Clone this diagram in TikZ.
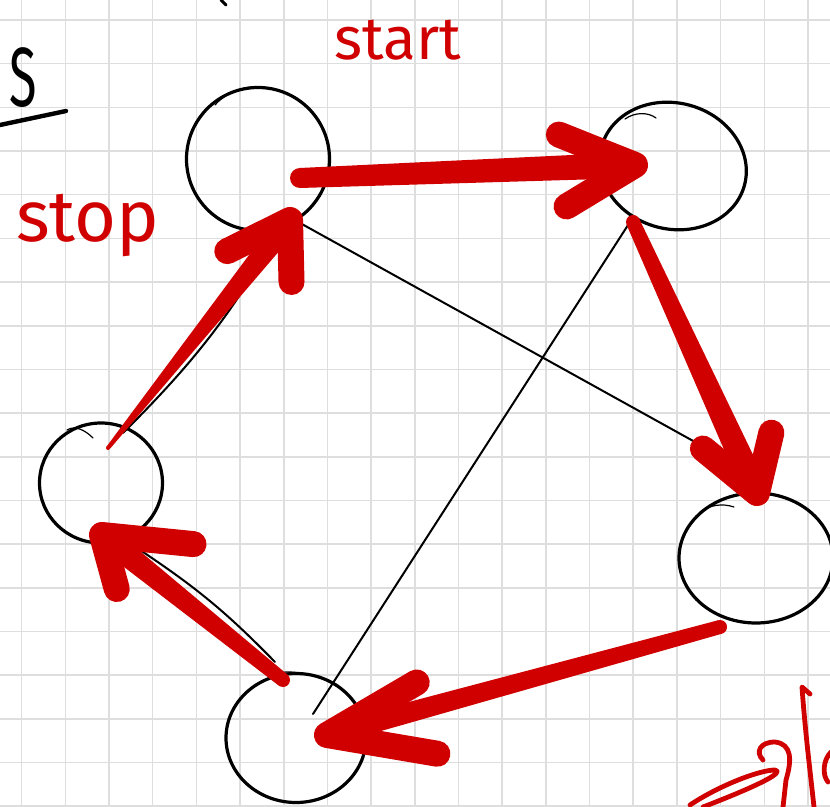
\documentclass[tikz,border=0pt]{standalone}
\usepackage{fontspec}
\setmainfont{Fira Sans}
\usetikzlibrary{calc,shapes.geometric}

\definecolor{penred}{RGB}{209,0,0}
\definecolor{paperline}{RGB}{222,222,222}

\tikzset{
  vertex/.style={draw, ellipse, line width=1.6pt, inner sep=0pt, outer sep=0pt},
  edge/.style={line width=1pt, line cap=round},
  tail/.style={line width=0.6pt, line cap=round},
  penhead/.style={penred, line width=13pt, line cap=round, line join=round},
  scribble/.style={penred, line width=2.4pt, line cap=round, line join=round}
}

% tapered red stroke from #1 to #2 with an open head
% #3/#4 half widths, #5/#6 barb angles, #7/#8 barb lengths
\newcommand{\penarrow}[8]{%
  \fill[penred] ($(#1)!#3!90:(#2)$) -- ($(#2)!#4!-90:(#1)$) -- ($(#2)!#4!90:(#1)$) -- ($(#1)!#3!-90:(#2)$) -- cycle;
  \fill[penred] (#1) circle (#3);
  \draw[penhead] ($(#2)!#7!#5:(#1)$) -- (#2) -- ($(#2)!#8!#6:(#1)$);
}

\begin{document}
\begin{tikzpicture}[x=0.5pt, y=-0.5pt]
  \useasboundingbox[fill=white] (0,0) rectangle (830,807);

  % Grid paper
  \foreach \i in {0,...,18}
    \draw[paperline, line width=0.75pt] ({21.7+43.68*\i},0) -- ({21.7+43.68*\i},807);
  \foreach \j in {0,...,18}
    \draw[paperline, line width=0.75pt] (0,{20+43.68*\j}) -- (830,{20+43.68*\j});

  % Vertices
  \node[vertex, minimum width=71.5pt, minimum height=71.5pt] (st) at (258,159) {};
  \node[vertex, minimum width=74pt, minimum height=63pt, rotate=-15] (tr) at (673,166) {};
  \node[vertex, minimum width=77pt, minimum height=65pt] (rt) at (756,558) {};
  \node[vertex, minimum width=70pt, minimum height=64.5pt] (bt) at (296,738) {};
  \node[vertex, minimum width=61.5pt, minimum height=60pt] (lf) at (101,483) {};

  % Loose pen tails
  \draw[tail] (215,105) .. controls (228,90) and (250,84) .. (268,88);
  \draw[tail] (625,119) .. controls (635,112) and (648,112) .. (656,118);
  \draw[tail] (700,512) .. controls (710,505) and (722,503) .. (734,507);
  \draw[tail] (67,430) .. controls (75,425) and (85,430) .. (93,438);
  \draw[tail] (268,676) .. controls (280,671) and (292,671) .. (304,674);

  % Black edges
  \coordinate (d1a) at ($(st)+(24,54)$);
  \coordinate (d1b) at ($(rt)+(-61,-116)$);
  \coordinate (d2a) at ($(tr)+(-43,56)$);
  \coordinate (d2b) at ($(bt)+(17,-24)$);
  \coordinate (e5a) at ($(lf)+(22,-50)$);
  \coordinate (e5b) at ($(st)+(30,56)$);
  \coordinate (e4a) at ($(bt)+(-21,-76)$);
  \coordinate (e4b) at ($(lf)+(39,67)$);
  \draw[edge] (d1a) -- (d1b);
  \draw[edge] (d2a) -- (d2b);
  \draw[edge] (e5a) to[bend right=8] (e5b);
  \draw[edge] (e4a) to[bend right=6] (e4b);

  % Red tour
  \coordinate (a1s) at ($(st)+(42,19)$);
  \coordinate (a1t) at ($(tr)+(-38,-1)$);
  \coordinate (a2s) at ($(tr)+(-40,56)$);
  \coordinate (a2t) at ($(rt)+(1,-65)$);
  \coordinate (a3s) at ($(rt)+(-36,69)$);
  \coordinate (a3t) at ($(bt)+(31,-3)$);
  \coordinate (a4s) at ($(bt)+(-13,-58)$);
  \coordinate (a4t) at ($(lf)+(1,52)$);
  \coordinate (a5s) at ($(lf)+(7,-35)$);
  \coordinate (a5t) at ($(st)+(32,61)$);
  \penarrow{a1s}{a1t}{5pt}{6.5pt}{-24}{29}{41pt}{40pt}
  \penarrow{a2s}{a2t}{3.5pt}{6.5pt}{26}{-38}{35pt}{31pt}
  \penarrow{a3s}{a3t}{3.5pt}{5.5pt}{15}{-25}{52pt}{56pt}
  \penarrow{a4s}{a4t}{3.5pt}{6pt}{33}{-36}{46pt}{28pt}
  \penarrow{a5s}{a5t}{1pt}{6pt}{-25}{40}{35pt}{31pt}

  % Labels
  \node[penred, font=\fontsize{30}{30}\selectfont] (lbstart) at (398,40) {start};
  \node[penred, font=\fontsize{36}{36}\selectfont] (lbstop) at (88,226) {stop};
  \node[font=\fontsize{42}{42}\selectfont, xscale=0.6] (lbs) at (23,78) {S};
  \draw[line width=2.2pt, line cap=round] (0,125) -- (66,111);
  \draw[line width=1.5pt, line cap=round] (221,0) -- (226,5);

  % Scribble in the corner
  \draw[scribble] (690,805) .. controls (720,785) and (760,770) .. (775,770) .. controls (785,772) and (760,785) .. (703,807);
  \draw[scribble] (763,760) .. controls (755,752) and (760,742) .. (775,742) .. controls (792,744) and (792,760) .. (786,780) -- (783,807);
  \draw[scribble] (810,694) -- (802,687) .. controls (805,730) and (810,770) .. (814,807);
  \draw[scribble] (831,752) .. controls (823,760) and (822,775) .. (828,782);
\end{tikzpicture}
\end{document}
